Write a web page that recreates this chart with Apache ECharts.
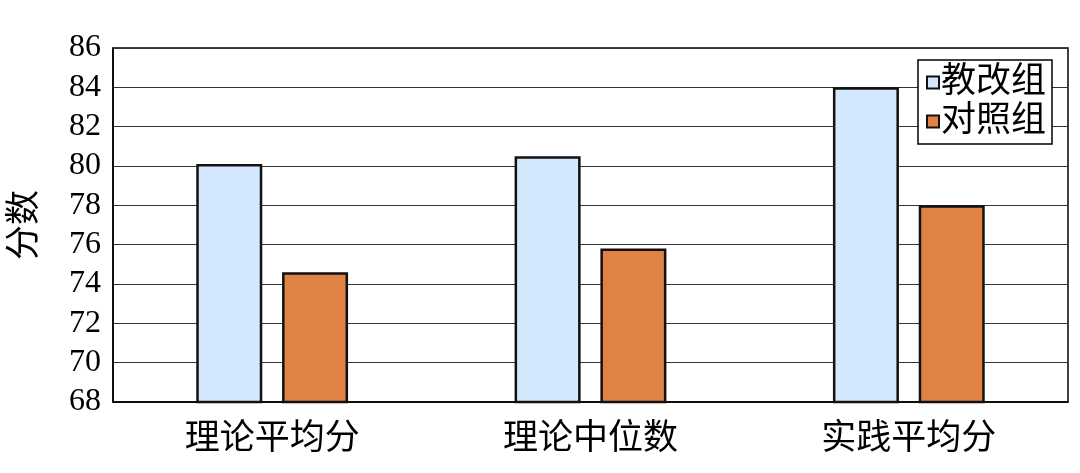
<!DOCTYPE html>
<html><head><meta charset="utf-8">
<script src="https://cdn.jsdelivr.net/npm/echarts@6/dist/echarts.min.js"></script>
<style>html,body{margin:0;padding:0;background:#fff}#c{width:1080px;height:473px}</style>
</head><body><div id="c"></div>
<script>
const categories = ['理论平均分', '理论中位数', '实践平均分'];
const seriesNames = ['教改组', '对照组'];
const reformValues = [80.1, 80.5, 84.0];
const controlValues = [74.6, 75.8, 78.0];
const yTicks = [68, 70, 72, 74, 76, 78, 80, 82, 84, 86];

const serif = '"Liberation Serif","Noto Sans CJK SC",serif';
const chart = echarts.init(document.getElementById('c'));
chart.setOption({
  animation: false,
  backgroundColor: '#fff',
  grid: {left: 113, right: 12, top: 48, bottom: 71, show: true, borderColor: '#000', borderWidth: 1.5,
         containLabel: false, outerBoundsMode: 'none'},
  legend: {
    data: seriesNames, orient: 'vertical', right: 28, top: 60,
    icon: 'rect', itemWidth: 12, itemHeight: 12, itemGap: 4,
    padding: [5, 6, 5, 8],
    backgroundColor: '#fff', borderColor: '#000', borderWidth: 1.5,
    textStyle: {fontFamily: serif, fontSize: 35, color: '#000', padding: [0, 0, 0, -3]}
  },
  xAxis: {
    type: 'category', data: categories,
    axisLine: {lineStyle: {color: '#000', width: 1.5}},
    axisTick: {show: false},
    axisLabel: {fontFamily: serif, fontSize: 35, color: '#000', margin: 20}
  },
  yAxis: {
    type: 'value', min: 68, max: 86, interval: 2,
    name: '分数', nameLocation: 'middle', nameRotate: 90, nameGap: 70,
    nameTextStyle: {fontFamily: serif, fontSize: 35, color: '#000'},
    axisLine: {show: true, lineStyle: {color: '#000', width: 1.5}},
    axisTick: {show: false},
    axisLabel: {fontFamily: serif, fontSize: 32, color: '#000', margin: 12,
      formatter: v => yTicks.includes(v) ? String(v) : ''},
    splitLine: {lineStyle: {color: '#333', width: 1.2}}
  },
  series: [
    {name: seriesNames[0], type: 'bar', data: reformValues, barWidth: 66, barGap: '30%',
     itemStyle: {color: '#d3e8fc', borderColor: '#111', borderWidth: 2.5}},
    {name: seriesNames[1], type: 'bar', data: controlValues, barWidth: 66,
     itemStyle: {color: '#e08243', borderColor: '#111', borderWidth: 2.5}}
  ]
});
</script></body></html>
